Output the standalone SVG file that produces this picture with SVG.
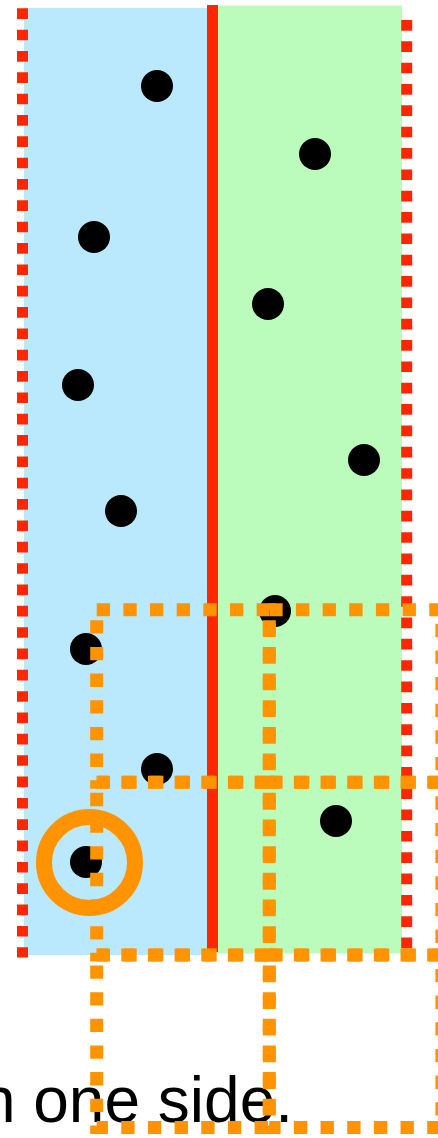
<svg xmlns="http://www.w3.org/2000/svg" width="438" height="1138" viewBox="0 0 438 1138">
<style>
.dot{fill:#000}
.reddot{stroke:#FF2600;stroke-width:11;stroke-dasharray:10.67 10.67;fill:none}
.cell{fill:none;stroke:#FF9300;stroke-width:13;stroke-dasharray:13.33 13.33}
.lbl{font-family:"Liberation Sans",Arial,sans-serif;font-size:64px;fill:#000}
</style>
<g id="regions">
<rect id="left-half" x="24" y="8" width="183" height="947" fill="#BAE9FD"/>
<rect id="right-half" x="217" y="5.5" width="185" height="948" fill="#BBFBBC"/>
</g>
<g id="connectors">
<line id="left-bound" class="reddot" x1="22.5" y1="8.3" x2="22.5" y2="957.5"/>
<line id="right-bound" class="reddot" x1="406.7" y1="20" x2="406.7" y2="950"/>
<line id="divider" x1="212.5" y1="5" x2="212.5" y2="952" stroke="#FF2600" stroke-width="11"/>
</g>
<g id="points">
<g id="p1"><circle class="dot" cx="157" cy="86" r="16"/></g>
<g id="p2"><circle class="dot" cx="315" cy="154" r="16"/></g>
<g id="p3"><circle class="dot" cx="94" cy="237" r="16"/></g>
<g id="p4"><circle class="dot" cx="268" cy="304" r="16"/></g>
<g id="p5"><circle class="dot" cx="78" cy="385" r="16"/></g>
<g id="p6"><circle class="dot" cx="364" cy="460" r="16"/></g>
<g id="p7"><circle class="dot" cx="121" cy="511" r="16"/></g>
<g id="p8"><circle class="dot" cx="275" cy="611" r="16"/></g>
<g id="p9"><circle class="dot" cx="86" cy="649" r="16"/></g>
<g id="p10"><circle class="dot" cx="157" cy="769" r="16"/></g>
<g id="p11"><circle class="dot" cx="336" cy="821" r="16"/></g>
<g id="p12"><circle class="dot" cx="86" cy="862" r="16"/></g>
</g>
<g id="label"><text class="lbl" x="293" y="1122" text-anchor="end">n one side.</text></g>
<g id="grid">
<rect class="cell" x="96.7" y="609.7" width="172.6" height="172.6"/>
<rect class="cell" x="269.3" y="609.7" width="172.6" height="172.6"/>
<rect class="cell" x="96.7" y="782.3" width="172.6" height="172.6"/>
<rect class="cell" x="269.3" y="782.3" width="172.6" height="172.6"/>
<rect class="cell" x="96.7" y="954.9" width="172.6" height="172.6"/>
<rect class="cell" x="269.3" y="954.9" width="172.6" height="172.6"/>
</g>
<g id="highlight"><circle cx="89.5" cy="862.5" r="45.5" fill="none" stroke="#FF9300" stroke-width="16"/></g>
</svg>
